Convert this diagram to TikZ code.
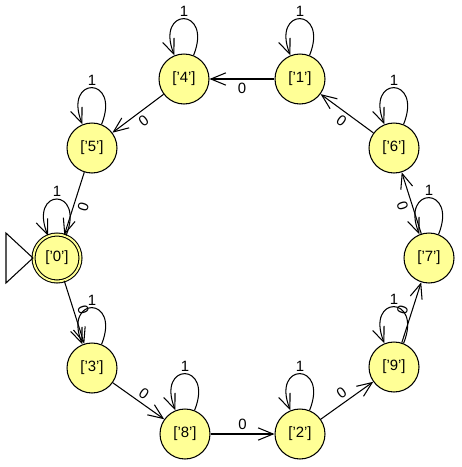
\documentclass[tikz,border=0pt]{standalone}
\usepackage{fontspec}
\setmainfont{Liberation Sans}
\usetikzlibrary{arrows.meta}
\definecolor{statefill}{RGB}{255,255,150}
\begin{document}
\begin{tikzpicture}[x=0.02cm,y=-0.02cm,
    line width=0.6pt,
    font=\fontsize{8.5}{10}\selectfont,
    >={Straight Barb[length=8.5pt,width=7pt]},
    state/.style={circle,draw,fill=statefill,minimum size=1cm,inner sep=0pt},
    accepting/.style={minimum size=0.94cm,double=statefill,double distance=1.1pt},
    lbl/.style={auto,sloped,inner sep=2pt},
    lblswap/.style={lbl,swap},
    selfloop/.style={out=68,in=112,distance=1.05cm}]
  \useasboundingbox (0,0) rectangle (462,467);
  \node[state,accepting] (q0) at (57,258) {['0']};
  \node[state] (q5) at (92,148) {['5']};
  \node[state] (q4) at (184,79) {['4']};
  \node[state] (q1) at (300,79) {['1']};
  \node[state] (q6) at (394,148) {['6']};
  \node[state] (q7) at (429,258) {['7']};
  \node[state] (q9) at (394,367) {['9']};
  \node[state] (q2) at (300,434) {['2']};
  \node[state] (q8) at (185,434) {['8']};
  \node[state] (q3) at (92,368) {['3']};
  % start arrow
  \draw (q0.west) -- ++(-27,-25) -- ++(0,50) -- cycle;
  % ring of 0-edges
  \draw[->] (q1) -- node[lblswap] {0} (q4);
  \draw[->] (q4) -- node[lblswap] {0} (q5);
  \draw[->] (q5) -- node[lblswap] {0} (q0);
  \draw[->] (q0) -- node[lbl] {0} (q3);
  \draw[->] (q3) -- node[lbl] {0} (q8);
  \draw[->] (q8) -- node[lbl] {0} (q2);
  \draw[->] (q2) -- node[lbl] {0} (q9);
  \draw[->] (q9) -- node[lbl] {0} (q7);
  \draw[->] (q7) -- node[lblswap] {0} (q6);
  \draw[->] (q6) -- node[lblswap] {0} (q1);
  % 1-loops
  \foreach \q in {q0,q5,q4,q1,q6,q7,q9,q2,q8,q3}
    \draw[->] (\q) to[selfloop] node[above,inner sep=1pt] {1} (\q);
\end{tikzpicture}
\end{document}
